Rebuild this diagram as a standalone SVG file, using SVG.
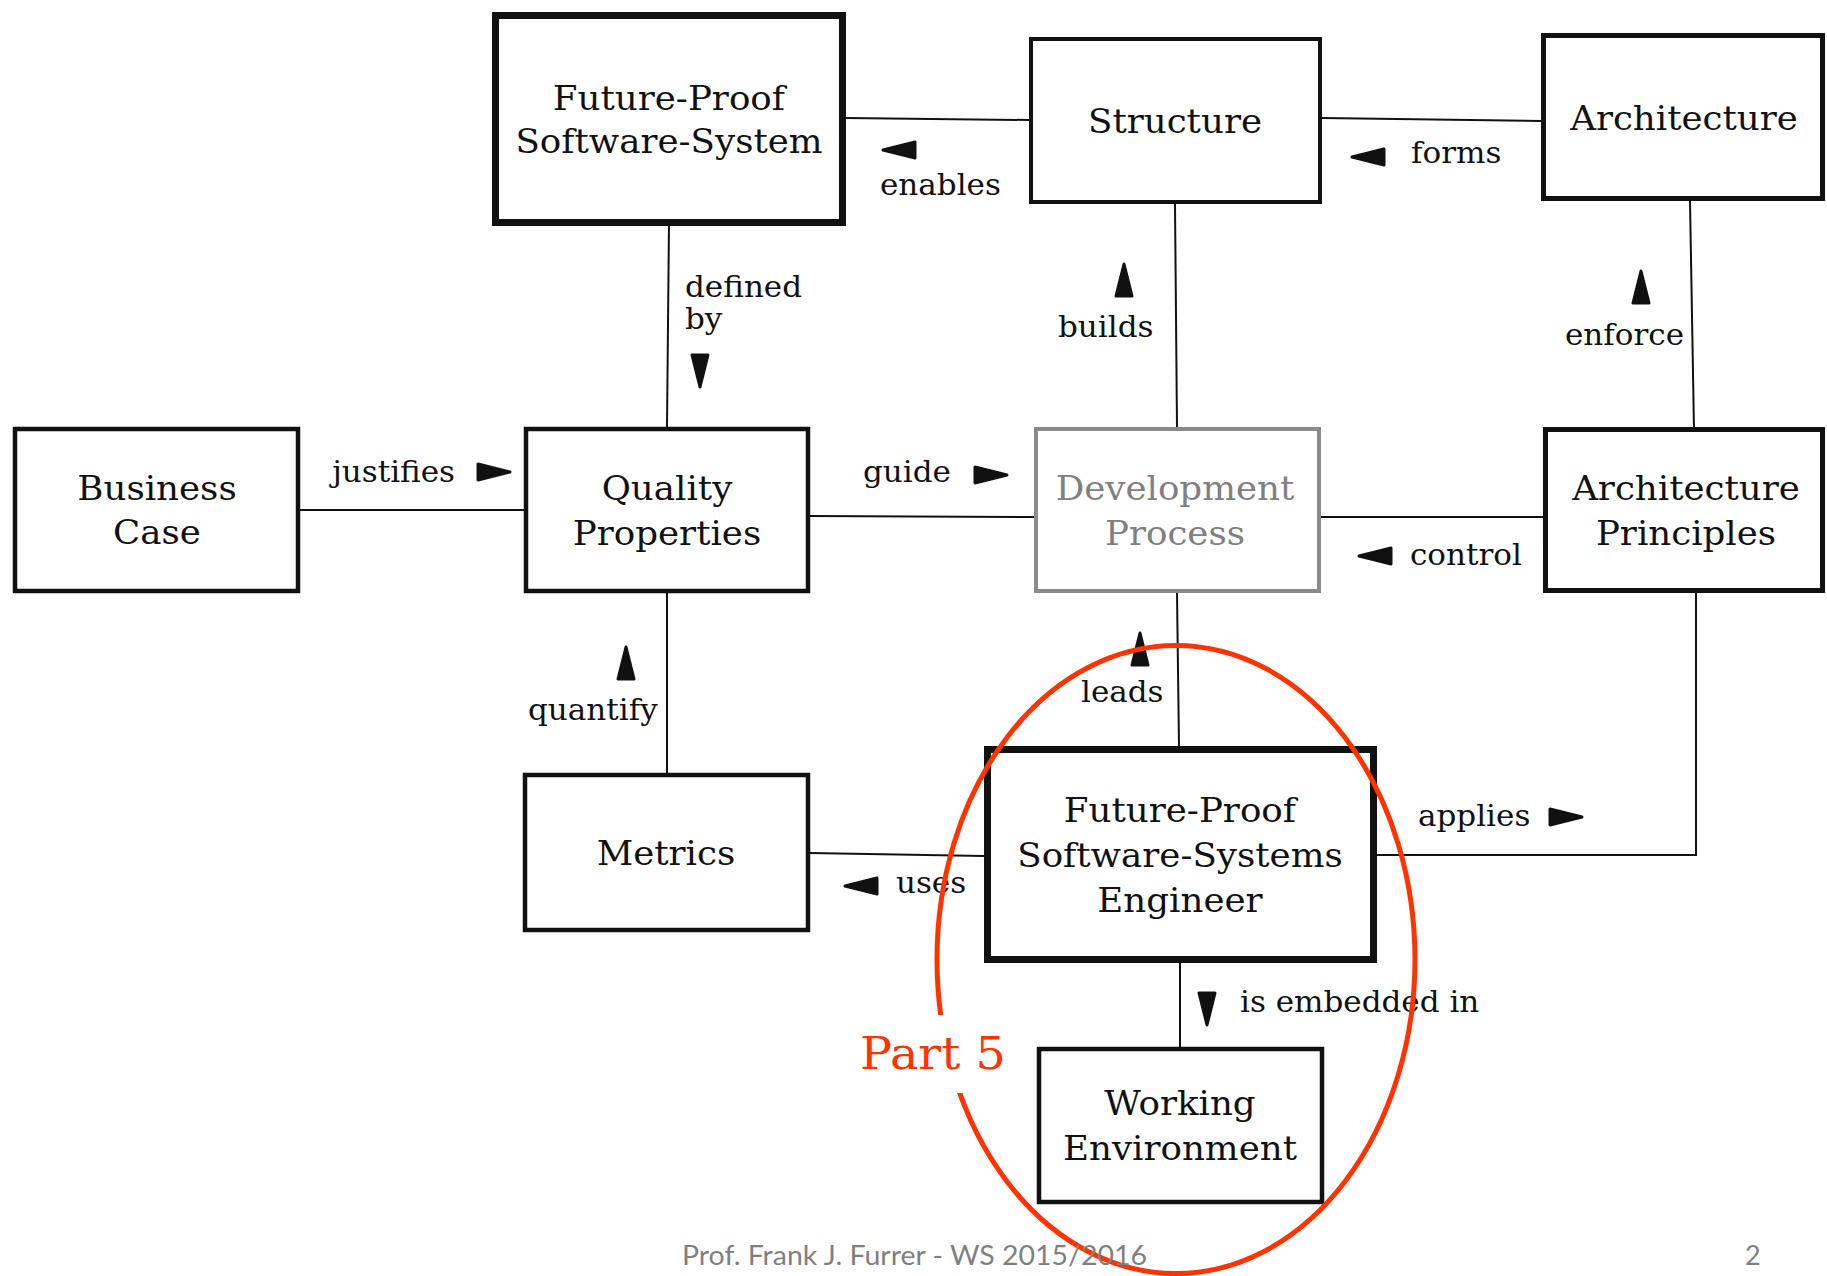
<svg xmlns="http://www.w3.org/2000/svg" xmlns:xlink="http://www.w3.org/1999/xlink" width="1827" height="1276" viewBox="0 0 1827 1276">
  <style>
    .box { fill: #ffffff; stroke: #111111; }
    .thin { stroke-width: 4.5; }
    .thick { stroke-width: 7; }
    .grey { stroke: #8a8a8a; stroke-width: 4; }
    /* serif labels are drawn slightly widened */
    .node { font-family: "DejaVu Serif", "Liberation Serif", serif; font-size: 33px; fill: #111111; text-anchor: middle;
            transform-box: fill-box; transform-origin: 50% 50%; transform: scaleX(1.08); }
    .node.dim { fill: #808080; }
    .lbl { font-family: "DejaVu Serif", "Liberation Serif", serif; font-size: 29px; fill: #111111;
           transform-box: fill-box; transform-origin: 0 50%; transform: scaleX(1.07); }
    .wire { fill: none; stroke: #111111; stroke-width: 2; }
    .head { fill: #111111; stroke: #111111; stroke-width: 3; stroke-linejoin: round; }
    .ring { fill: none; stroke: #ff3300; stroke-width: 5; }
    .part { font-family: "DejaVu Serif", "Liberation Serif", serif; font-size: 45px; fill: #ff3300;
            transform-box: fill-box; transform-origin: 0 50%; transform: scaleX(1.06); }
    .foot { font-family: Lato, "Open Sans", "Liberation Sans", sans-serif; font-size: 27px; fill: #7f7f7f; }
  </style>
  <defs>
    <!-- direction triangle, pointing right, centred on the origin -->
    <path id="tri" d="M-16,-8 L16,0 L-16,8 Z"/>
  </defs>

  <rect width="1827" height="1276" fill="#ffffff"/>

  <!-- connectors -->
  <g id="connectors">
    <line class="wire" x1="846" y1="118" x2="1029" y2="120"/>
    <line class="wire" x1="1322" y1="118" x2="1541" y2="121"/>
    <line class="wire" x1="669" y1="222" x2="667" y2="427"/>
    <line class="wire" x1="300" y1="510" x2="524" y2="510"/>
    <line class="wire" x1="810" y1="516" x2="1034" y2="517"/>
    <line class="wire" x1="1321" y1="517" x2="1543" y2="517"/>
    <line class="wire" x1="1175" y1="204" x2="1177" y2="427"/>
    <line class="wire" x1="1690" y1="201" x2="1694" y2="430"/>
    <line class="wire" x1="667" y1="593" x2="667" y2="773"/>
    <line class="wire" x1="1177" y1="593" x2="1179" y2="746"/>
    <line class="wire" x1="810" y1="853" x2="984" y2="856"/>
    <polyline class="wire" points="1377,855 1696,855 1696,593"/>
    <line class="wire" x1="1180" y1="963" x2="1180" y2="1047"/>

    <!-- direction marks -->
    <use xlink:href="#tri" class="head" transform="translate(899 150) rotate(180)"/>
    <use xlink:href="#tri" class="head" transform="translate(1368 157) rotate(180)"/>
    <use xlink:href="#tri" class="head" transform="translate(494 472)"/>
    <use xlink:href="#tri" class="head" transform="translate(991 475)"/>
    <use xlink:href="#tri" class="head" transform="translate(1375 556) rotate(180)"/>
    <use xlink:href="#tri" class="head" transform="translate(1566 817)"/>
    <use xlink:href="#tri" class="head" transform="translate(861 886) rotate(180)"/>
    <use xlink:href="#tri" class="head" transform="translate(700 371) rotate(90)"/>
    <use xlink:href="#tri" class="head" transform="translate(1124 280) rotate(-90)"/>
    <use xlink:href="#tri" class="head" transform="translate(1641 287) rotate(-90)"/>
    <use xlink:href="#tri" class="head" transform="translate(626 663) rotate(-90)"/>
    <use xlink:href="#tri" class="head" transform="translate(1140 649) rotate(-90)"/>
    <use xlink:href="#tri" class="head" transform="translate(1207 1009) rotate(90)"/>

    <!-- relation labels -->
    <text class="lbl" x="880" y="195">enables</text>
    <text class="lbl" x="1411" y="163">forms</text>
    <text class="lbl" x="685" y="297">defined</text>
    <text class="lbl" x="685" y="329">by</text>
    <text class="lbl" x="1058" y="337">builds</text>
    <text class="lbl" x="1565" y="345">enforce</text>
    <text class="lbl" x="332" y="482">justifies</text>
    <text class="lbl" x="863" y="482">guide</text>
    <text class="lbl" x="1410" y="565">control</text>
    <text class="lbl" x="528" y="720">quantify</text>
    <text class="lbl" x="1081" y="702">leads</text>
    <text class="lbl" x="1418" y="826">applies</text>
    <text class="lbl" x="896" y="893">uses</text>
    <text class="lbl" x="1240" y="1012">is embedded in</text>
  </g>

  <!-- nodes -->
  <g id="n-system">
    <rect class="box thick" x="495.5" y="15.5" width="347" height="207"/>
    <text class="node" x="669" y="110">Future-Proof</text>
    <text class="node" x="669" y="153">Software-System</text>
  </g>
  <g id="n-structure">
    <rect class="box" style="stroke-width:4" x="1031" y="39" width="289" height="163"/>
    <text class="node" x="1175" y="133">Structure</text>
  </g>
  <g id="n-architecture">
    <rect class="box" style="stroke-width:5" x="1543.5" y="35.5" width="279" height="163"/>
    <text class="node" x="1684" y="130">Architecture</text>
  </g>
  <g id="n-business">
    <rect class="box thin" x="15" y="429" width="283" height="162"/>
    <text class="node" x="157" y="500">Business</text>
    <text class="node" x="157" y="544">Case</text>
  </g>
  <g id="n-quality">
    <rect class="box thin" x="526" y="429" width="282" height="162"/>
    <text class="node" x="667" y="500">Quality</text>
    <text class="node" x="667" y="545">Properties</text>
  </g>
  <g id="n-process">
    <rect class="box grey" x="1036" y="429" width="283" height="162"/>
    <text class="node dim" x="1175" y="500">Development</text>
    <text class="node dim" x="1175" y="545">Process</text>
  </g>
  <g id="n-principles">
    <rect class="box" style="stroke-width:5" x="1545.5" y="429.5" width="277" height="161"/>
    <text class="node" x="1686" y="500">Architecture</text>
    <text class="node" x="1686" y="545">Principles</text>
  </g>
  <g id="n-metrics">
    <rect class="box thin" x="525" y="775" width="283" height="155"/>
    <text class="node" x="666" y="865">Metrics</text>
  </g>
  <g id="n-engineer">
    <rect class="box thick" x="987.5" y="749.5" width="386" height="210"/>
    <text class="node" x="1180" y="822">Future-Proof</text>
    <text class="node" x="1180" y="867">Software-Systems</text>
    <text class="node" x="1180" y="912">Engineer</text>
  </g>
  <g id="n-environment">
    <rect class="box thin" x="1039" y="1049" width="283" height="153"/>
    <text class="node" x="1180" y="1115">Working</text>
    <text class="node" x="1180" y="1160">Environment</text>
  </g>

  <!-- highlighted part -->
  <g id="part5">
    <ellipse class="ring" cx="1176" cy="959.5" rx="239" ry="314"/>
    <rect x="855" y="1015" width="150" height="78" fill="#ffffff"/>
    <text class="part" x="860" y="1069">Part 5</text>
  </g>

  <!-- footer -->
  <text class="foot" x="682" y="1265" textLength="465" lengthAdjust="spacingAndGlyphs">Prof. Frank J. Furrer - WS 2015/2016</text>
  <text class="foot" x="1745" y="1265">2</text>
</svg>
